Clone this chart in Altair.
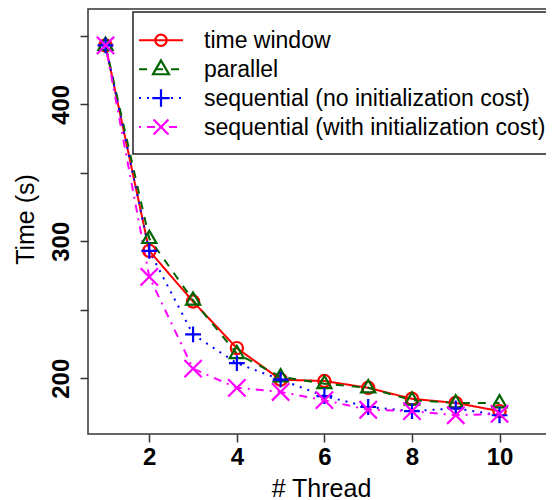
import altair as alt
import pandas as pd

# ---- data ----
threads = [1, 2, 3, 4, 5, 6, 7, 8, 9, 10]
time_window = [443, 293, 256, 222, 199, 198, 193, 185, 182, 176]
parallel = [443, 302, 257, 218, 201, 196, 193, 184, 182, 182]
seq_no_init = [443, 293, 232, 211, 199, 187, 179, 176, 178, 173]
seq_with_init = [443, 274, 207, 193, 190, 184, 177, 176, 173, 174]

series_names = [
    "time window",
    "parallel",
    "sequential (no initialization cost)",
    "sequential (with initialization cost)",
]
series_values = [time_window, parallel, seq_no_init, seq_with_init]

x_ticks = [2, 4, 6, 8, 10]
y_ticks = [200, 250, 300, 350, 400, 450]

# ---- styles ----
colors = ["#FF0000", "#006400", "#0000FF", "#FF00FF"]
dashes = [[1, 0], [8, 8], [2, 6], [2, 6, 8, 6]]
plus_path = "M-1,0L1,0M0,-1L0,1"
x_path = "M-1,-1L1,1M-1,1L1,-1"
tri_path = "M0,-1.1L-1,0.63L1,0.63Z"
shapes = ["circle", tri_path, plus_path, x_path]
sizes = [150, 300, 360, 260]

rows = []
for name, vals in zip(series_names, series_values):
    for t, v in zip(threads, vals):
        rows.append({"series": name, "threads": t, "time": v})
df = pd.DataFrame(rows)

W, H = 466, 425
XDOM = [0.6, 11.244]
YDOM = [159.3, 469.6]
FONT = "Liberation Sans"

x_enc = alt.X(
    "threads:Q",
    scale=alt.Scale(domain=XDOM, nice=False, zero=False),
    axis=alt.Axis(
        values=x_ticks, title="# Thread", grid=False, domain=False,
        tickSize=8, tickColor="#333333", tickWidth=1.5,
        labelFontSize=24, labelFontWeight="bold", labelFont=FONT,
        labelColor="black", labelPadding=3, labelFlush=False,
        titleFont=FONT, titleFontSize=25, titleFontWeight="normal",
        titleColor="black", titleY=62, titleBaseline="alphabetic",
    ),
)
y_enc = alt.Y(
    "time:Q",
    scale=alt.Scale(domain=YDOM, nice=False, zero=False),
    axis=alt.Axis(
        values=y_ticks, title="Time (s)", grid=False, domain=False,
        labelExpr="datum.value % 100 == 0 ? datum.label : ''",
        tickSize=8, tickColor="#333333", tickWidth=1.5,
        labelFontSize=24, labelFontWeight="bold", labelFont=FONT,
        labelColor="black", labelAngle=270, labelAlign="center",
        labelBaseline="alphabetic", labelPadding=12, labelFlush=False,
        titleFont=FONT, titleFontSize=25, titleFontWeight="normal",
        titleColor="black", titleAngle=270, titleAlign="center",
        titleBaseline="alphabetic", titleX=-55, titleY=210,
    ),
)

color_enc = alt.Color(
    "series:N", scale=alt.Scale(domain=series_names, range=colors), legend=None
)

lines = alt.Chart(df).mark_line(strokeWidth=2).encode(
    x=x_enc,
    y=y_enc,
    color=color_enc,
    strokeDash=alt.StrokeDash(
        "series:N", scale=alt.Scale(domain=series_names, range=dashes), legend=None
    ),
)

points = alt.Chart(df).mark_point(filled=False, strokeWidth=2.2, opacity=1).encode(
    x="threads:Q",
    y="time:Q",
    color=color_enc,
    shape=alt.Shape(
        "series:N", scale=alt.Scale(domain=series_names, range=shapes), legend=None
    ),
    size=alt.Size(
        "series:N", scale=alt.Scale(domain=series_names, range=sizes), legend=None
    ),
)

# ---- legend (drawn by hand to show line + marker) ----
leg_df = pd.DataFrame({"series": series_names})
legend_box = alt.Chart(leg_df.head(1)).mark_rect(
    fill="white", stroke="#222222", strokeWidth=1.5
).encode(
    x=alt.value(45), x2=alt.value(W + 10), y=alt.value(3), y2=alt.value(145)
)

legend_layers = [legend_box]
for i, name in enumerate(series_names):
    ly = 31.3 + i * 28.9
    one = pd.DataFrame({"series": [name]})
    legend_layers.append(
        alt.Chart(one).mark_rule(
            color=colors[i], strokeWidth=2, strokeDash=dashes[i]
        ).encode(x=alt.value(51), x2=alt.value(95), y=alt.value(ly))
    )
    legend_layers.append(
        alt.Chart(one).mark_point(
            shape=shapes[i], size=sizes[i] * 0.85, color=colors[i],
            filled=False, strokeWidth=2.2, opacity=1
        ).encode(x=alt.value(73), y=alt.value(ly))
    )
    legend_layers.append(
        alt.Chart(one).mark_text(
            align="left", baseline="middle", font=FONT, fontSize=23,
            color="black", dy=1
        ).encode(x=alt.value(116), y=alt.value(ly), text="series:N")
    )

chart = alt.layer(lines, points, *legend_layers).properties(
    width=W, height=H,
    autosize=alt.AutoSizeParams(type="none"),
    padding={"left": 80, "top": 1, "right": -8, "bottom": 66},
    background="white",
).configure_view(stroke="#333333", strokeWidth=1.5)

chart.save("out.html", embed_options={"renderer": "svg", "actions": False})
